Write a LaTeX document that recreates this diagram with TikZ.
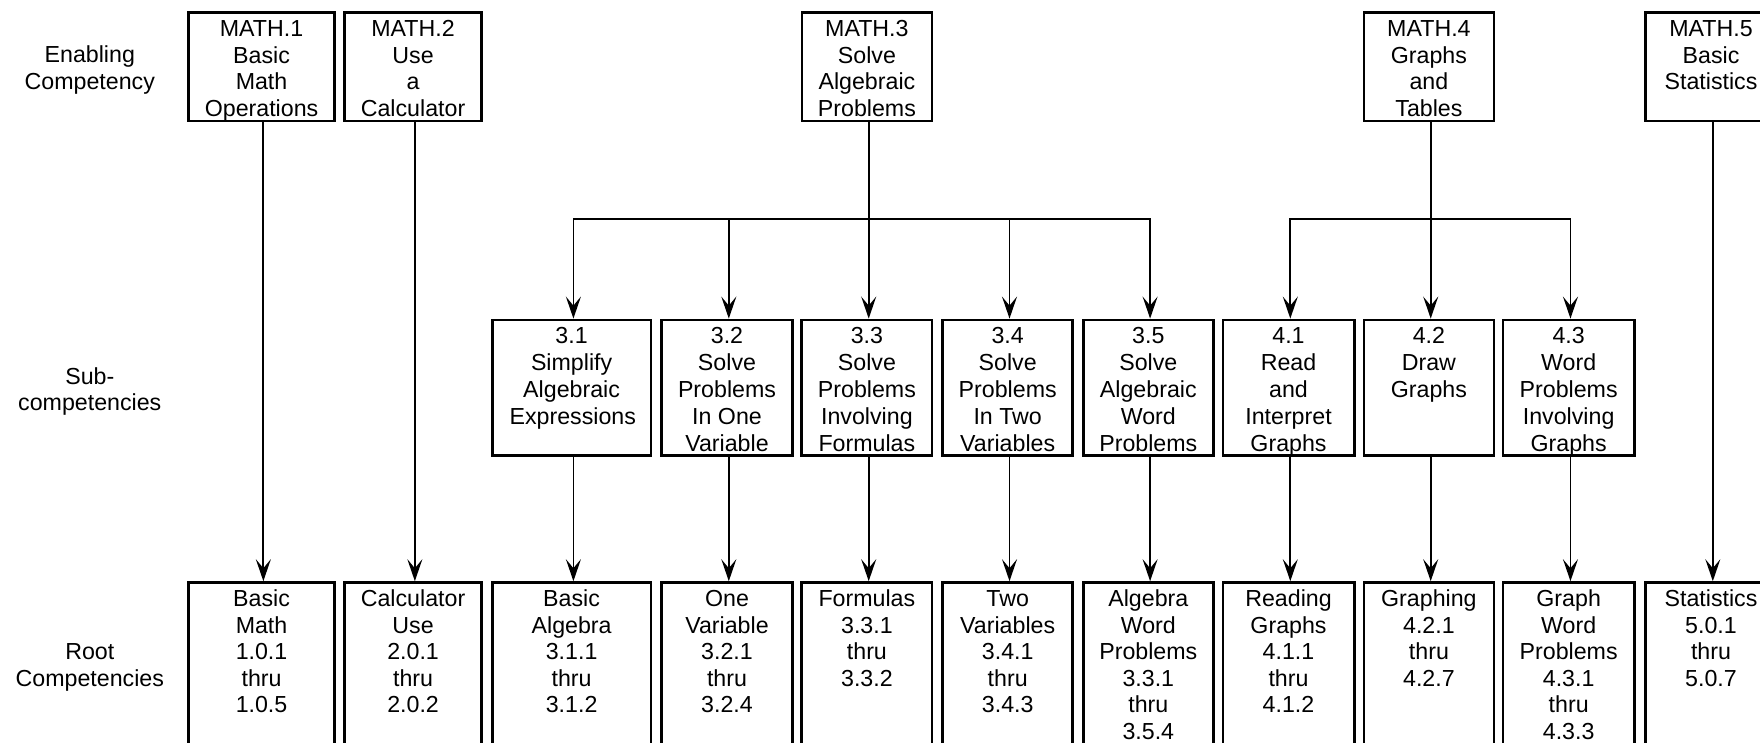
\documentclass[tikz,border=0pt]{standalone}
\usepackage{fontspec}
\setmainfont{Liberation Sans}
\usetikzlibrary{arrows.meta}
\newcommand{\fs}{\fontsize{11.6pt}{13.47pt}\selectfont}
\newcommand{\rfs}{\fontsize{11.6pt}{13.3pt}\selectfont}
\newcommand{\bxt}[3]{\parbox[c][#1][t]{62pt}{\centering\rule{0pt}{#2}#3\par}}
\newcommand{\topbx}[1]{\bxt{54.45pt}{11.9pt}{#1}}
\newcommand{\subbx}[1]{\bxt{67.9pt}{11.9pt}{#1}}
\newcommand{\rootbx}[1]{\bxt{90pt}{12.0pt}{\rfs #1}}
\tikzset{
  bx/.style={draw, line width=1.3pt, inner sep=0pt, font=\fs},
  arr/.style={line width=0.9pt, transform canvas={xshift=0.9pt}, -{Stealth[length=11pt,width=7.5pt,inset=4.5pt]}},
  ln/.style={line width=0.9pt, transform canvas={xshift=0.9pt}},
  lab/.style={align=center, font=\fs, inner sep=0pt}
}
\begin{document}
\begin{tikzpicture}[x=0.5pt,y=-0.5pt]
\useasboundingbox (0,0) rectangle (1760,743);
\clip (0,0) rectangle (1760,743);
% row labels
\node[lab] (l1) at (89.8,70) {Enabling\\Competency};
\node[lab] (l2) at (89.8,391.5) {Sub-\\competencies};
\node[lab] (l3) at (89.8,667.5) {Root\\Competencies};
% top row
\node[bx, minimum width=72.95pt] (m1) at (261.55,66.75) {\topbx{MATH.1\\Basic\\Math\\Operations}};
\node[bx, minimum width=68.45pt] (m2) at (413.05,66.75) {\topbx{MATH.2\\Use\\a\\Calculator}};
\node[bx, minimum width=65.1pt] (m3) at (866.9,66.75) {\topbx{MATH.3\\Solve\\Algebraic\\Problems}};
\node[bx, minimum width=65.1pt] (m4) at (1428.9,66.75) {\topbx{MATH.4\\Graphs\\and\\Tables}};
\node[bx, minimum width=65.5pt] (m5) at (1711,66.75) {\topbx{MATH.5\\Basic\\Statistics}};
% sub row
\node[bx, minimum width=79.3pt] (s31) at (571.6,387.8) {\subbx{3.1\\Simplify\\Algebraic\\Expressions}};
\node[bx, minimum width=65.3pt] (s32) at (727,387.8) {\subbx{3.2\\Solve\\Problems\\In One\\Variable}};
\node[bx, minimum width=65.15pt] (s33) at (866.9,387.8) {\subbx{3.3\\Solve\\Problems\\Involving\\Formulas}};
\node[bx, minimum width=65pt] (s34) at (1007.7,387.8) {\subbx{3.4\\Solve\\Problems\\In Two\\Variables}};
\node[bx, minimum width=65pt] (s35) at (1148.3,387.8) {\subbx{3.5\\Solve\\Algebraic\\Word\\Problems}};
\node[bx, minimum width=65.7pt] (s41) at (1288.5,387.8) {\subbx{4.1\\Read\\and\\Interpret\\Graphs}};
\node[bx, minimum width=65.1pt] (s42) at (1428.9,387.8) {\subbx{4.2\\Draw\\Graphs}};
\node[bx, minimum width=65.65pt] (s43) at (1568.65,387.8) {\subbx{4.3\\Word\\Problems\\Involving\\Graphs}};
% root row
\node[bx, minimum width=72.95pt] (r1) at (261.55,672.5) {\rootbx{Basic\\Math\\1.0.1\\thru\\1.0.5}};
\node[bx, minimum width=68.45pt] (r2) at (413.05,672.5) {\rootbx{Calculator\\Use\\2.0.1\\thru\\2.0.2}};
\node[bx, minimum width=79.3pt] (r31) at (571.6,672.5) {\rootbx{Basic\\Algebra\\3.1.1\\thru\\3.1.2}};
\node[bx, minimum width=65.3pt] (r32) at (727,672.5) {\rootbx{One\\Variable\\3.2.1\\thru\\3.2.4}};
\node[bx, minimum width=65.15pt] (r33) at (866.9,672.5) {\rootbx{Formulas\\3.3.1\\thru\\3.3.2}};
\node[bx, minimum width=65pt] (r34) at (1007.7,672.5) {\rootbx{Two\\Variables\\3.4.1\\thru\\3.4.3}};
\node[bx, minimum width=65pt] (r35) at (1148.3,672.5) {\rootbx{Algebra\\Word\\Problems\\3.3.1\\thru\\3.5.4}};
\node[bx, minimum width=65.7pt] (r41) at (1288.5,672.5) {\rootbx{Reading\\Graphs\\4.1.1\\thru\\4.1.2}};
\node[bx, minimum width=65.1pt] (r42) at (1428.9,672.5) {\rootbx{Graphing\\4.2.1\\thru\\4.2.7}};
\node[bx, minimum width=65.65pt] (r43) at (1568.65,672.5) {\rootbx{Graph\\Word\\Problems\\4.3.1\\thru\\4.3.3}};
\node[bx, minimum width=65.5pt] (r5) at (1711,672.5) {\rootbx{Statistics\\5.0.1\\thru\\5.0.7}};
% branch points
\coordinate (b3) at (866.9,218.9);
\coordinate (b4) at (1428.9,218.9);
% connectors
\draw[arr] (m1) -- (r1);
\draw[arr] (m2) -- (r2);
\draw[arr] (m5) -- (r5);
\draw[ln] (m3.south) -- (b3);
\draw[ln] (m4.south) -- (b4);
\foreach \s in {s31,s32,s33,s34,s35} \draw[arr] (b3) -| (\s.north);
\foreach \s in {s41,s42,s43} \draw[arr] (b4) -| (\s.north);
\draw[arr] (s31) -- (r31);
\draw[arr] (s32) -- (r32);
\draw[arr] (s33) -- (r33);
\draw[arr] (s34) -- (r34);
\draw[arr] (s35) -- (r35);
\draw[arr] (s41) -- (r41);
\draw[arr] (s42) -- (r42);
\draw[arr] (s43) -- (r43);
\end{tikzpicture}
\end{document}
